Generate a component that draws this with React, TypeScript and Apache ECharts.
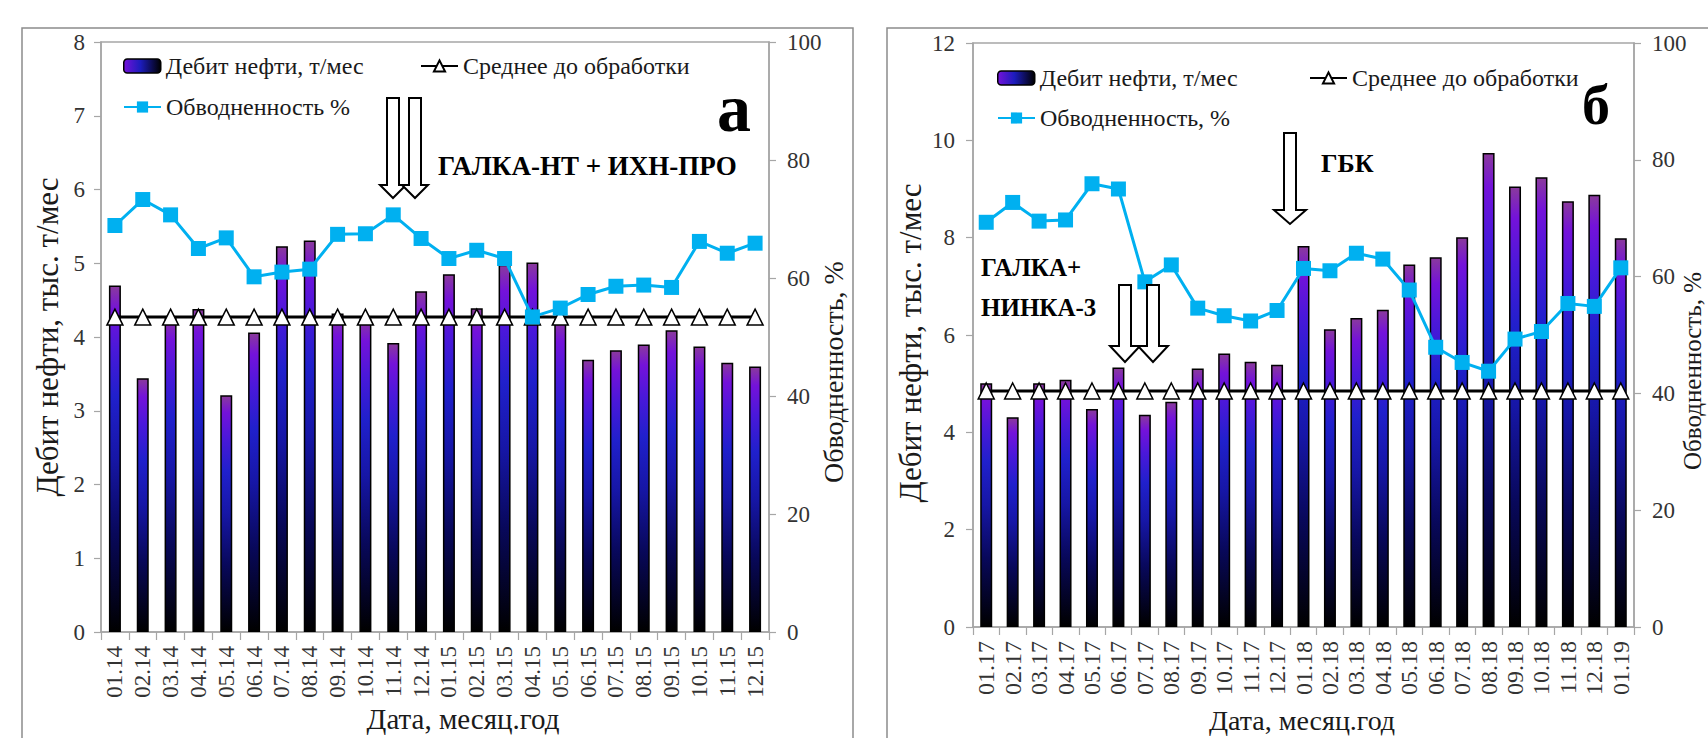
import React, { useEffect, useRef } from 'react';
import * as echarts from 'echarts';

// ---------- DATA ----------
const catsA = ['01.14', '02.14', '03.14', '04.14', '05.14', '06.14', '07.14', '08.14', '09.14', '10.14', '11.14', '12.14',
  '01.15', '02.15', '03.15', '04.15', '05.15', '06.15', '07.15', '08.15', '09.15', '10.15', '11.15', '12.15'];
const oilA = [4.70, 3.44, 4.28, 4.38, 3.21, 4.06, 5.23, 5.31, 4.32, 4.25, 3.92, 4.62,
  4.85, 4.39, 4.98, 5.01, 4.25, 3.69, 3.82, 3.90, 4.09, 3.87, 3.65, 3.60];
const avgA = [4.27, 4.27, 4.27, 4.27, 4.27, 4.27, 4.27, 4.27, 4.27, 4.27, 4.27, 4.27,
  4.27, 4.27, 4.27, 4.27, 4.27, 4.27, 4.27, 4.27, 4.27, 4.27, 4.27, 4.27];
const waterA = [68.9, 73.3, 70.7, 65.0, 66.8, 60.2, 61.0, 61.5, 67.4, 67.5, 70.7, 66.7,
  63.3, 64.7, 63.3, 53.4, 54.9, 57.2, 58.6, 58.8, 58.4, 66.2, 64.2, 65.9];

const catsB = ['01.17', '02.17', '03.17', '04.17', '05.17', '06.17', '07.17', '08.17', '09.17', '10.17', '11.17', '12.17',
  '01.18', '02.18', '03.18', '04.18', '05.18', '06.18', '07.18', '08.18', '09.18', '10.18', '11.18', '12.18', '01.19'];
const oilB = [5.01, 4.31, 5.01, 5.08, 4.48, 5.33, 4.36, 4.63, 5.31, 5.62, 5.45, 5.39,
  7.83, 6.12, 6.35, 6.52, 7.45, 7.60, 8.01, 9.74, 9.05, 9.24, 8.75, 8.88, 7.99];
const avgB = [4.85, 4.85, 4.85, 4.85, 4.85, 4.85, 4.85, 4.85, 4.85, 4.85, 4.85, 4.85,
  4.85, 4.85, 4.85, 4.85, 4.85, 4.85, 4.85, 4.85, 4.85, 4.85, 4.85, 4.85, 4.85];
const waterB = [69.3, 72.7, 69.5, 69.7, 75.9, 75.0, 59.1, 62.0, 54.6, 53.3, 52.4, 54.2,
  61.4, 61.0, 64.0, 63.0, 57.7, 47.9, 45.3, 43.8, 49.3, 50.6, 55.4, 54.9, 61.5];

const NAME_OIL = 'Дебит нефти, т/мес';
const NAME_AVG = 'Среднее до обработки';
const NAME_WATER_A = 'Обводненность %';
const NAME_WATER_B = 'Обводненность, %';

// ---------- STYLE ----------
const FT = '"Liberation Serif", "Times New Roman", serif';
const GRAY = '#a6a6a6';
const TXT = '#1a1a1a';
const CYAN = '#00b0f0';

const barGradient = () =>
  new echarts.graphic.LinearGradient(0, 0, 0, 1, [
    { offset: 0, color: '#8a3a9c' },
    { offset: 0.07, color: '#7412da' },
    { offset: 0.18, color: '#4a18da' },
    { offset: 0.32, color: '#2020cc' },
    { offset: 0.5, color: '#1616a6' },
    { offset: 0.72, color: '#08085a' },
    { offset: 1, color: '#000000' },
  ]);

const legendGradient = () =>
  new echarts.graphic.LinearGradient(0, 0, 1, 0, [
    { offset: 0, color: '#7412da' },
    { offset: 0.45, color: '#1c1cbc' },
    { offset: 1, color: '#000000' },
  ]);

function arrow(cx: number, shaftW: number, headW: number, yTop: number, yHead: number, yTip: number) {
  const s = shaftW / 2;
  const h = headW / 2;
  return {
    type: 'polygon',
    shape: {
      points: [
        [cx - s, yTop], [cx + s, yTop], [cx + s, yHead], [cx + h, yHead],
        [cx, yTip], [cx - h, yHead], [cx - s, yHead],
      ],
    },
    style: { fill: '#fff', stroke: '#000', lineWidth: 2 },
    z: 50,
  };
}

function txt(text: string, x: number, y: number, font: string, opts: any = {}) {
  const align = opts.align || 'left';
  return {
    type: 'text',
    x,
    y,
    rotation: opts.rotation || 0,
    z: 60,
    style: {
      text,
      font,
      fill: opts.fill || TXT,
      align,
      textAlign: align,
      verticalAlign: 'middle',
      textVerticalAlign: 'middle',
    },
  };
}

function axisX(gridIndex: number, data: string[], fontSize: number) {
  return {
    type: 'category',
    gridIndex,
    data,
    axisLine: { show: true, lineStyle: { color: GRAY, width: 1.5 } },
    axisTick: { show: true, length: 8, interval: 0, lineStyle: { color: GRAY, width: 1.2 } },
    axisLabel: { interval: 0, rotate: 90, margin: 14, fontFamily: FT, fontSize, color: '#333' },
    splitLine: { show: false },
  };
}

function axisY(gridIndex: number, position: string, max: number, interval: number, margin: number) {
  return {
    type: 'value',
    gridIndex,
    position,
    min: 0,
    max,
    interval,
    axisLine: { show: true, lineStyle: { color: GRAY, width: 1.5 } },
    axisTick: { show: true, length: 7, lineStyle: { color: GRAY, width: 1.2 } },
    axisLabel: { margin, fontFamily: FT, fontSize: 23, color: '#333' },
    splitLine: { show: false },
  };
}

function legendItem(name: string, left: number, top: number, extra: any = {}) {
  return {
    data: [{ name, ...extra }],
    left,
    top,
    padding: 0,
    itemWidth: 37,
    itemHeight: 14,
    selectedMode: false,
    textStyle: { fontFamily: FT, fontSize: 24, color: TXT, lineHeight: 24 },
  };
}

export default function App() {
  const ref = useRef<HTMLDivElement>(null);

  useEffect(() => {
    if (!ref.current) return;
    const chart = echarts.init(ref.current, undefined, { renderer: 'svg' });

    const oilLegend = { itemStyle: { color: legendGradient(), borderColor: '#000', borderWidth: 1.5 } };

    const option: any = {
      animation: false,
      backgroundColor: '#ffffff',
      grid: [
        { left: 101, top: 42, width: 668, height: 590, show: true, borderColor: GRAY, borderWidth: 1.5, backgroundColor: 'transparent' },
        { left: 973, top: 43, width: 661, height: 584, show: true, borderColor: GRAY, borderWidth: 1.5, backgroundColor: 'transparent' },
      ],
      xAxis: [axisX(0, catsA, 23), axisX(1, catsB, 24)],
      yAxis: [
        axisY(0, 'left', 8, 1, 16),
        axisY(0, 'right', 100, 20, 18),
        axisY(1, 'left', 12, 2, 18),
        axisY(1, 'right', 100, 20, 18),
      ],
      legend: [
        legendItem(NAME_OIL, 123, 54, oilLegend),
        legendItem(NAME_AVG, 420, 54),
        legendItem(NAME_WATER_A, 123, 95),
        legendItem(NAME_OIL, 997, 66, oilLegend),
        legendItem(NAME_AVG, 1309, 66),
        legendItem(NAME_WATER_B, 997, 106),
      ],
      series: [
        {
          type: 'bar', name: NAME_OIL, xAxisIndex: 0, yAxisIndex: 0, data: oilA, barWidth: 12,
          itemStyle: { color: barGradient(), borderColor: '#000', borderWidth: 1.5 }, z: 2,
        },
        {
          type: 'line', name: NAME_AVG, xAxisIndex: 0, yAxisIndex: 0, data: avgA,
          symbol: 'triangle', symbolSize: 16,
          lineStyle: { color: '#000', width: 3 },
          itemStyle: { color: '#fff', borderColor: '#000', borderWidth: 1.5 }, z: 3,
        },
        {
          type: 'line', name: NAME_WATER_A, xAxisIndex: 0, yAxisIndex: 1, data: waterA,
          symbol: 'rect', symbolSize: 15,
          lineStyle: { color: CYAN, width: 3 },
          itemStyle: { color: CYAN }, z: 4,
        },
        {
          type: 'bar', name: NAME_OIL, xAxisIndex: 1, yAxisIndex: 2, data: oilB, barWidth: 12,
          itemStyle: { color: barGradient(), borderColor: '#000', borderWidth: 1.5 }, z: 2,
        },
        {
          type: 'line', name: NAME_AVG, xAxisIndex: 1, yAxisIndex: 2, data: avgB,
          symbol: 'triangle', symbolSize: 16,
          lineStyle: { color: '#000', width: 3 },
          itemStyle: { color: '#fff', borderColor: '#000', borderWidth: 1.5 }, z: 3,
        },
        {
          type: 'line', name: NAME_WATER_B, xAxisIndex: 1, yAxisIndex: 3, data: waterB,
          symbol: 'rect', symbolSize: 15,
          lineStyle: { color: CYAN, width: 3 },
          itemStyle: { color: CYAN }, z: 4,
        },
      ],
      graphic: [
        // panel frames
        { type: 'rect', shape: { x: 22, y: 28, width: 831, height: 760 }, style: { fill: 'none', stroke: '#8c8c8c', lineWidth: 1.5 }, z: 1 },
        { type: 'rect', shape: { x: 887, y: 28, width: 900, height: 760 }, style: { fill: 'none', stroke: '#8c8c8c', lineWidth: 1.5 }, z: 1 },
        // arrows
        arrow(393, 12, 26, 98, 185, 198),
        arrow(415, 12, 26, 98, 185, 198),
        arrow(1290, 12, 32, 133, 210, 224),
        arrow(1125, 12, 30, 285, 346, 362),
        arrow(1153, 12, 30, 285, 346, 362),
        // annotations
        txt('ГАЛКА-НТ + ИХН-ПРО', 438, 166, `bold 27px ${FT}`, { fill: '#000' }),
        txt('а', 734, 108, `bold 68px ${FT}`, { fill: '#000', align: 'center' }),
        txt('ГБК', 1321, 163, `bold 26px ${FT}`, { fill: '#000' }),
        txt('ГАЛКА+', 981, 267, `bold 25px ${FT}`, { fill: '#000' }),
        txt('НИНКА-3', 981, 307, `bold 25px ${FT}`, { fill: '#000' }),
        txt('б', 1596, 105, `bold 56px ${FT}`, { fill: '#000', align: 'center' }),
        // axis names
        txt('Дебит нефти, тыс. т/мес', 47, 337, `31px ${FT}`, { align: 'center', rotation: Math.PI / 2 }),
        txt('Обводненность, %', 833, 372, `28px ${FT}`, { align: 'center', rotation: Math.PI / 2 }),
        txt('Дата, месяц.год', 463, 719, `29px ${FT}`, { align: 'center' }),
        txt('Дебит нефти, тыс. т/мес', 910, 343, `31px ${FT}`, { align: 'center', rotation: Math.PI / 2 }),
        txt('Обводненность, %', 1692, 371, `25px ${FT}`, { align: 'center', rotation: Math.PI / 2 }),
        txt('Дата, месяц.год', 1302, 720, `28px ${FT}`, { align: 'center' }),
      ],
    };

    chart.setOption(option);
    return () => chart.dispose();
  }, []);

  return (
    <div
      ref={ref}
      style={{ position: 'fixed', left: 0, top: 0, width: 1708, height: 738, background: '#fff' }}
    />
  );
}
